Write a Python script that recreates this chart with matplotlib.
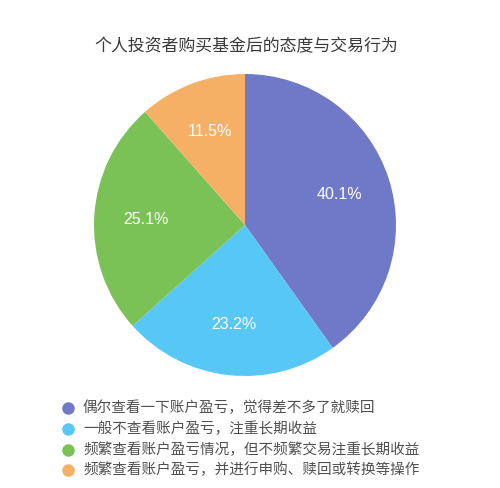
import matplotlib
matplotlib.use("Agg")
import matplotlib.pyplot as plt

plt.rcParams['font.family'] = ['Noto Sans CJK SC', 'DejaVu Sans']

title = "个人投资者购买基金后的态度与交易行为"
categories = [
    "偶尔查看一下账户盈亏，觉得差不多了就赎回",
    "一般不查看账户盈亏，注重长期收益",
    "频繁查看账户盈亏情况，但不频繁交易注重长期收益",
    "频繁查看账户盈亏，并进行申购、赎回或转换等操作",
]
values = [40.1, 23.2, 25.1, 11.5]
colors = ["#7079C8", "#57C8F6", "#7AC255", "#F6B066"]

W, H = 500, 488
fig = plt.figure(figsize=(W / 100, H / 100), dpi=100)
fig.patch.set_facecolor("white")

cx, cy, r = 245, 225, 151
ax = fig.add_axes([(cx - r) / W, (H - cy - r) / H, 2 * r / W, 2 * r / H])
wedges, texts, autotexts = ax.pie(
    values, colors=colors, startangle=90, counterclock=False,
    autopct=lambda p: f"{p:.1f}%", pctdistance=0.66, radius=1,
    wedgeprops=dict(linewidth=0),
    textprops=dict(color="white", fontsize=11.5, family=["Liberation Sans", "DejaVu Sans"]),
)
ax.set_xlim(-1, 1)
ax.set_ylim(-1, 1)
ax.set_aspect("equal")
ax.axis("off")

fig.text(246 / W, 1 - 46 / H, title, ha="center", va="center",
         fontsize=12.2, color="#3a3a3a")

# legend
lax = fig.add_axes([0, 0, 1, 1])
lax.set_xlim(0, W)
lax.set_ylim(H, 0)
lax.axis("off")
ys = [408, 429, 450, 470]
for y, c, lab in zip(ys, colors, categories):
    lax.plot([68], [y], marker="o", markersize=8, color=c, linestyle="none")
    lax.text(83, y, lab, ha="left", va="center", fontsize=10.5, color="#505050")

fig.savefig("out.png", dpi=100, facecolor="white")
